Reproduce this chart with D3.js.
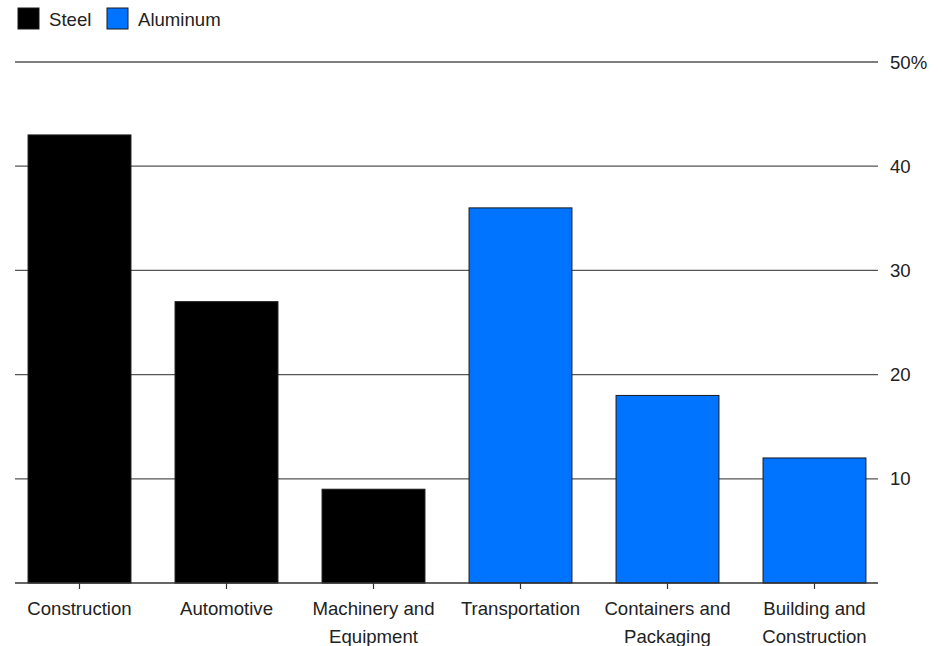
<!DOCTYPE html>
<html>
<head>
<meta charset="utf-8">
<script src="https://cdn.jsdelivr.net/npm/d3@7"></script>
<style>
  body { margin: 0; background: #fff; }
  text { font-family: "Liberation Sans", Arial, sans-serif; fill: #222; }
</style>
</head>
<body>
<svg width="942" height="646"></svg>
<script>
const width = 942;
const height = 646;

const categories = [
  ["Construction"],
  ["Automotive"],
  ["Machinery and", "Equipment"],
  ["Transportation"],
  ["Containers and", "Packaging"],
  ["Building and", "Construction"]
];
const metals = ["Steel", "Steel", "Steel", "Aluminum", "Aluminum", "Aluminum"];
const values = [43, 27, 9, 36, 18, 12];
const yTicks = [10, 20, 30, 40, 50];
const legendItems = ["Steel", "Aluminum"];

const fontSize = 18.6;

const color = d3.scaleOrdinal().domain(legendItems).range(["#000000", "#0073ff"]);

const svg = d3.select("svg");

const x = d3.scaleBand()
  .domain(d3.range(values.length))
  .range([6, 888])
  .paddingInner(0.3)
  .paddingOuter(0.15);

const y = d3.scaleLinear().domain([0, 50]).range([583, 62]);

const gridLeft = 15;
const gridRight = 878;

// gridlines
svg.append("g")
  .selectAll("line")
  .data(yTicks)
  .join("line")
  .attr("x1", gridLeft)
  .attr("x2", gridRight)
  .attr("y1", d => y(d))
  .attr("y2", d => y(d))
  .attr("stroke", "#555")
  .attr("stroke-width", 1.3);

// right tick labels
svg.append("g")
  .selectAll("text")
  .data(yTicks)
  .join("text")
  .attr("x", 890)
  .attr("y", d => y(d))
  .attr("dy", "0.35em")
  .attr("font-size", fontSize)
  .text(d => d === 50 ? d + "%" : d);

// bars
svg.append("g")
  .selectAll("rect")
  .data(values)
  .join("rect")
  .attr("x", (d, i) => x(i))
  .attr("y", d => y(d))
  .attr("width", x.bandwidth())
  .attr("height", d => y(0) - y(d))
  .attr("fill", (d, i) => color(metals[i]))
  .attr("stroke", "#1a1a1a")
  .attr("stroke-width", 1);

// baseline
svg.append("line")
  .attr("x1", gridLeft)
  .attr("x2", gridRight)
  .attr("y1", y(0))
  .attr("y2", y(0))
  .attr("stroke", "#333")
  .attr("stroke-width", 1.5);

// bottom ticks
svg.append("g")
  .selectAll("line")
  .data(values)
  .join("line")
  .attr("x1", (d, i) => x(i) + x.bandwidth() / 2)
  .attr("x2", (d, i) => x(i) + x.bandwidth() / 2)
  .attr("y1", y(0))
  .attr("y2", y(0) + 6)
  .attr("stroke", "#333")
  .attr("stroke-width", 1.2);

// category labels
const labels = svg.append("g")
  .selectAll("text")
  .data(categories)
  .join("text")
  .attr("text-anchor", "middle")
  .attr("font-size", fontSize)
  .attr("x", (d, i) => x(i) + x.bandwidth() / 2);

labels.selectAll("tspan")
  .data(d => d)
  .join("tspan")
  .attr("x", function () { return d3.select(this.parentNode).attr("x"); })
  .attr("y", (d, j) => 615 + j * 28)
  .text(d => d);

// legend
const legend = svg.append("g").attr("transform", "translate(18,8)");
const legendX = [0, 89];
const item = legend.selectAll("g")
  .data(legendItems)
  .join("g")
  .attr("transform", (d, i) => `translate(${legendX[i]},0)`);

item.append("rect")
  .attr("width", 21)
  .attr("height", 21)
  .attr("fill", d => color(d))
  .attr("stroke", "#1a1a1a")
  .attr("stroke-width", 1);

item.append("text")
  .attr("x", 31)
  .attr("y", 11)
  .attr("dy", "0.35em")
  .attr("font-size", fontSize)
  .text(d => d);
</script>
</body>
</html>
